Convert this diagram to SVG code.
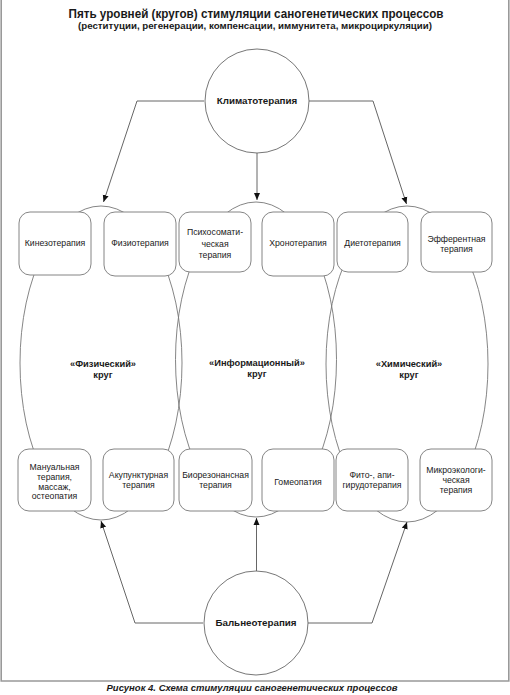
<svg xmlns="http://www.w3.org/2000/svg" width="510" height="695" viewBox="0 0 510 695">
<style>
.t{font-family:"Liberation Sans",Arial,sans-serif;fill:#1a1a1a;text-anchor:middle}
.bx{font-size:8.7px}
.b{font-weight:bold}
.box{fill:#fff;stroke:#777;stroke-width:0.9}
.ell{fill:none;stroke:#777;stroke-width:0.9}
.circ{fill:#fff;stroke:#666;stroke-width:0.9}
.con{fill:none;stroke:#666;stroke-width:1}
</style>
<defs>
<marker id="ah" markerWidth="8" markerHeight="8" refX="7" refY="3.5" orient="auto" markerUnits="userSpaceOnUse">
<path d="M0,0.5 L7,3.5 L0,6.5 Z" fill="#111"/>
</marker>
</defs>
<rect x="0" y="0" width="510" height="695" fill="#fff"/>
<path d="M1.2,-2 V681 H508.8 V-2" fill="none" stroke="#999" stroke-width="1.6"/>
<text class="t b" x="256" y="18" font-size="12" textLength="375" lengthAdjust="spacingAndGlyphs">Пять уровней (кругов) стимуляции саногенетических процессов</text>
<text class="t b" x="255" y="29" font-size="8.8" textLength="354" lengthAdjust="spacingAndGlyphs">(реституции, регенерации, компенсации, иммунитета, микроциркуляции)</text>
<text class="t b" x="252" y="691" font-size="9.5" font-style="italic" textLength="291" lengthAdjust="spacingAndGlyphs">Рисунок 4. Схема стимуляции саногенетических процессов</text>

<g id="rings">
<ellipse class="ell" cx="101" cy="363" rx="81" ry="157"/>
<ellipse class="ell" cx="256" cy="359.5" rx="80.5" ry="157.5"/>
<ellipse class="ell" cx="407" cy="364" rx="81" ry="158"/>
</g>

<g id="connectors">
<path class="con" d="M204,101 H137 L103.5,202" marker-end="url(#ah)"/>
<path class="con" d="M257,153 V200" marker-end="url(#ah)"/>
<path class="con" d="M309,101 H373 L406.5,204" marker-end="url(#ah)"/>
<path class="con" d="M203,623 H135 L101,521" marker-end="url(#ah)"/>
<path class="con" d="M256.5,571 V518" marker-end="url(#ah)"/>
<path class="con" d="M308,623 H372 L407,522" marker-end="url(#ah)"/>
</g>

<g id="klimato">
<circle class="circ" cx="257" cy="101" r="52"/>
<text class="t b" x="257" y="104" font-size="9.8">Климатотерапия</text>
</g>
<g id="balneo">
<circle class="circ" cx="256" cy="623" r="52"/>
<text class="t b" x="256" y="626" font-size="9.8">Бальнеотерапия</text>
</g>

<g id="label-phys"><text class="t b" font-size="9.3"><tspan x="103" y="367">«Физический»</tspan><tspan x="103" y="378">круг</tspan></text></g>
<g id="label-info"><text class="t b" font-size="9.3"><tspan x="257" y="366">«Информационный»</tspan><tspan x="257" y="377">круг</tspan></text></g>
<g id="label-chem"><text class="t b" font-size="9.3"><tspan x="409" y="367">«Химический»</tspan><tspan x="409" y="378">круг</tspan></text></g>

<g id="kinezo"><rect class="box" x="19" y="212" width="72" height="63" rx="11"/><text class="t bx" x="55" y="246">Кинезотерапия</text></g>
<g id="fizio"><rect class="box" x="104" y="212" width="72" height="64" rx="11"/><text class="t bx" x="140" y="246">Физиотерапия</text></g>
<g id="psycho"><rect class="box" x="179" y="212" width="72" height="60" rx="11"/><text class="t bx"><tspan x="215" y="235">Психосомати-</tspan><tspan x="215" y="247">ческая</tspan><tspan x="215" y="258">терапия</tspan></text></g>
<g id="chrono"><rect class="box" x="262" y="212" width="72" height="64" rx="11"/><text class="t bx" x="298" y="246">Хронотерапия</text></g>
<g id="dieto"><rect class="box" x="337" y="212" width="71" height="60" rx="11"/><text class="t bx" x="372.5" y="246">Диетотерапия</text></g>
<g id="efferent"><rect class="box" x="421" y="212" width="71" height="60" rx="11"/><text class="t bx"><tspan x="456.5" y="242">Эфферентная</tspan><tspan x="456.5" y="252">терапия</tspan></text></g>

<g id="manual"><rect class="box" x="18" y="449" width="73" height="62" rx="11"/><text class="t bx"><tspan x="54.5" y="470">Мануальная</tspan><tspan x="54.5" y="480">терапия,</tspan><tspan x="54.5" y="490">массаж,</tspan><tspan x="54.5" y="499">остеопатия</tspan></text></g>
<g id="acup"><rect class="box" x="103" y="449" width="71" height="62" rx="11"/><text class="t bx"><tspan x="138.5" y="478">Акупунктурная</tspan><tspan x="138.5" y="488">терапия</tspan></text></g>
<g id="bio"><rect class="box" x="179" y="449" width="73" height="62" rx="11"/><text class="t bx"><tspan x="215.5" y="478">Биорезонансная</tspan><tspan x="215.5" y="488">терапия</tspan></text></g>
<g id="homeo"><rect class="box" x="262" y="449" width="72" height="62" rx="11"/><text class="t bx" x="298" y="485">Гомеопатия</text></g>
<g id="phyto"><rect class="box" x="336" y="449" width="72" height="62" rx="11"/><text class="t bx"><tspan x="372" y="478">Фито-, апи-</tspan><tspan x="372" y="488">гирудотерапия</tspan></text></g>
<g id="micro"><rect class="box" x="420" y="449" width="72" height="62" rx="11"/><text class="t bx"><tspan x="456" y="473">Микроэкологи-</tspan><tspan x="456" y="483">ческая</tspan><tspan x="456" y="493">терапия</tspan></text></g>
</svg>
